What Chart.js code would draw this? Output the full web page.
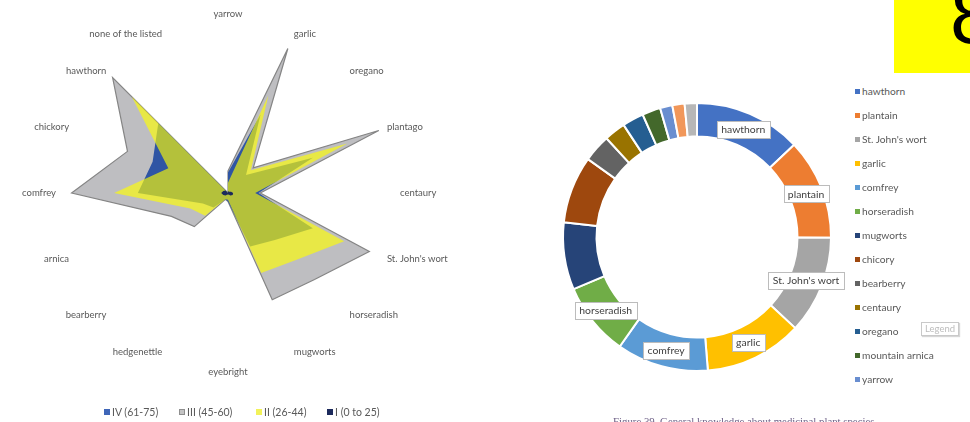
<!DOCTYPE html>
<html>
<head>
<meta charset="utf-8">
<script src="https://cdn.jsdelivr.net/npm/chart.js@4.4.1/dist/chart.umd.min.js"></script>
<style>
  html, body { margin: 0; padding: 0; background: #fff; }
  body { width: 970px; height: 422px; position: relative; overflow: hidden;
         font-family: Lato, "Open Sans", sans-serif; color: #595959; }
  canvas { position: absolute; }
  #radar { left: 0; top: 0; }
  #ring { left: 540px; top: 80px; }
  .key { position: absolute; white-space: nowrap; }
  .key i { position: absolute; display: block; }
  #radarKey .key { font-size: 10.5px; line-height: 12px; }
  #radarKey .key i { left: -8px; top: 3px; width: 6px; height: 6px; }
  #ringKey .key { font-size: 10.2px; line-height: 12px; }
  #ringKey .key i { left: -7px; top: 4px; width: 5px; height: 5px; }
  #tip { position: absolute; left: 921px; top: 322px; width: 36px; height: 12px;
         border: 1px solid #c9c9c9; box-shadow: 1px 1px 1px #d6d6d6; background: #fff;
         font-size: 9.5px; line-height: 12px; text-align: center; color: #bdbdbd; }
  #page { position: absolute; left: 894px; top: 0; width: 76px; height: 73px;
          background: #ffff00; overflow: hidden; }
  #page span { position: absolute; left: 56px; top: -26px; font: 82px/82px "Liberation Sans", sans-serif; color: #000; }
  #caption { position: absolute; left: 613px; top: 415px; font: 10.8px/12px "Liberation Serif", serif;
             color: #6d5f86; white-space: nowrap; }
</style>
</head>
<body>
<canvas id="radar" width="460" height="422"></canvas>
<canvas id="ring" width="320" height="320"></canvas>
<div id="radarKey"></div>
<div id="ringKey"></div>
<div id="tip">Legend</div>
<div id="page"><span>8</span></div>
<div id="caption">Figure 39. General knowledge about medicinal plant species</div>
<script>
// ---- Radar: plants named by each age group (spokes run clockwise from the top)
const spokes = ['yarrow', 'garlic', 'oregano', 'plantago', 'centaury', "St. John's wort",
  'horseradish', 'mugworts', 'eyebright', 'hedgenettle', 'bearberry', 'arnica',
  'comfrey', 'chickory', 'hawthorn', 'none of the listed'];
const groupNames = ['IV (61-75)', 'III (45-60)', 'II (26-44)', 'I (0 to 25)'];
const groupIV  = [6, 25, 7.5, 27, 9, 27, 19.5, 17, 2.5, 2, 6, 8, 26.5, 24, 29, 0];
const groupIII = [6.5, 46, 10.5, 48, 9.5, 45, 36, 34, 2.5, 2, 14, 18, 46, 32, 48, 0];
const groupII  = [3, 31, 9.5, 38, 8, 37, 28, 25.5, 2, 2, 9.5, 12, 33.5, 19, 40, 0];
const groupI   = [0.5, 0.5, 0.5, 1, 1.5, 1.5, 1, 0.5, 0.5, 0.5, 1, 1.5, 2, 1.5, 1, 0];
const radarMax = 50;

// ---- Doughnut: general knowledge about medicinal plant species
const species = ['hawthorn', 'plantain', "St. John's wort", 'garlic', 'comfrey', 'horseradish',
  'mugworts', 'chicory', 'bearberry', 'centaury', 'oregano', 'mountain arnica', 'yarrow',
  'hedgenettle', 'eyebright'];
const mentions = [35, 33, 32, 32, 30, 24, 22, 22, 9, 7, 7, 6, 4, 4, 4];
const labelledSlices = 6;   // only the six largest slices carry a name tag
const keyRows = 13;         // rows that fit in the legend box

const groupFill = ['#2f55a4', '#bebec1', 'rgba(255,255,0,0.64)', '#1c2a5c'];
const groupKey  = ['#3f66b8', '#c4c4c4', '#f2f25a', '#1c2a5c'];
const ringColors = ['#4472C4', '#ED7D31', '#A5A5A5', '#FFC000', '#5B9BD5', '#70AD47',
  '#264478', '#9E480E', '#636363', '#997300', '#255E91', '#43682B', '#698ED0',
  '#F1975A', '#B7B7B7'];

// Spoke names, placed just outside the plot circle
const spokeLabels = {
  id: 'spokeLabels',
  afterDraw(chart) {
    const r = chart.scales.r, ctx = chart.ctx, n = chart.data.labels.length;
    ctx.save();
    ctx.font = '9.5px Lato';
    ctx.fillStyle = '#595959';
    ctx.textBaseline = 'middle';
    chart.data.labels.forEach((text, i) => {
      const deg = i * 360 / n;
      const vertical = deg === 0 || deg === 180;
      const p = r.getPointPosition(i, r.drawingArea + (vertical ? 9 : 2));
      ctx.textAlign = vertical ? 'center' : (deg < 180 ? 'left' : 'right');
      ctx.fillText(text, p.x, p.y);
    });
    ctx.restore();
  }
};

const radarSeries = [groupIV, groupIII, groupII, groupI];
const drawOrder = [2, 3, 1, 0];   // lower value is painted on top
new Chart(document.getElementById('radar'), {
  type: 'radar',
  data: {
    labels: spokes,
    datasets: radarSeries.map((d, k) => ({
      label: groupNames[k],
      data: d,
      order: drawOrder[k],
      fill: 'origin',
      backgroundColor: groupFill[k],
      borderColor: k === 1 ? '#858585' : 'transparent',
      borderWidth: k === 1 ? 1.2 : 0,
      pointRadius: 0,
      pointHitRadius: 0
    }))
  },
  options: {
    responsive: false,
    devicePixelRatio: 1,
    animation: false,
    layout: { padding: { left: 58, top: 23, right: 62, bottom: 59 } },
    elements: { line: { tension: 0 } },
    scales: {
      r: {
        min: 0, max: radarMax,
        ticks: { display: false },
        grid: { display: false },
        angleLines: { display: false },
        pointLabels: { display: false }
      }
    },
    plugins: { legend: { display: false }, tooltip: { enabled: false } }
  },
  plugins: [spokeLabels]
});

// Name tags centred on the slices
const ringLabels = {
  id: 'ringLabels',
  afterDatasetsDraw(chart) {
    const ctx = chart.ctx, arcs = chart.getDatasetMeta(0).data;
    ctx.save();
    ctx.font = '10.4px Lato';
    ctx.textAlign = 'center';
    ctx.textBaseline = 'middle';
    arcs.slice(0, labelledSlices).forEach((arc, i) => {
      const p = arc.tooltipPosition();
      const text = chart.data.labels[i];
      const w = Math.round(ctx.measureText(text).width + 9), h = 17;
      const x = Math.round(p.x - w / 2) + 0.5, y = Math.round(p.y - h / 2) + 0.5;
      ctx.fillStyle = '#fff';
      ctx.fillRect(x, y, w, h);
      ctx.strokeStyle = '#bcbcbc';
      ctx.lineWidth = 1;
      ctx.strokeRect(x, y, w, h);
      ctx.fillStyle = '#404040';
      ctx.fillText(text, p.x, p.y + 0.5);
    });
    ctx.restore();
  }
};

new Chart(document.getElementById('ring'), {
  type: 'doughnut',
  data: {
    labels: species,
    datasets: [{ data: mentions, backgroundColor: ringColors, borderColor: '#fff', borderWidth: 2 }]
  },
  options: {
    responsive: false,
    devicePixelRatio: 1,
    animation: false,
    cutout: '75%',
    layout: { padding: { left: 22, top: 22, right: 28, bottom: 28 } },
    plugins: { legend: { display: false }, tooltip: { enabled: false } }
  },
  plugins: [ringLabels]
});

// Legends
const radarKey = document.getElementById('radarKey');
const radarKeyX = [112, 187, 264, 335];
groupNames.forEach((name, k) => {
  const el = document.createElement('div');
  el.className = 'key';
  el.style.left = radarKeyX[k] + 'px';
  el.style.top = '406px';
  el.innerHTML = '<i></i>' + name;
  el.querySelector('i').style.background = groupKey[k];
  if (k === 1) el.querySelector('i').style.boxShadow = 'inset 0 0 0 1px #8f8f8f';
  radarKey.appendChild(el);
});

const ringKey = document.getElementById('ringKey');
species.slice(0, keyRows).forEach((name, i) => {
  const el = document.createElement('div');
  el.className = 'key';
  el.style.left = '862px';
  el.style.top = (84.5 + 24 * i) + 'px';
  el.innerHTML = '<i></i>' + name;
  el.querySelector('i').style.background = ringColors[i];
  ringKey.appendChild(el);
});
</script>
</body>
</html>
